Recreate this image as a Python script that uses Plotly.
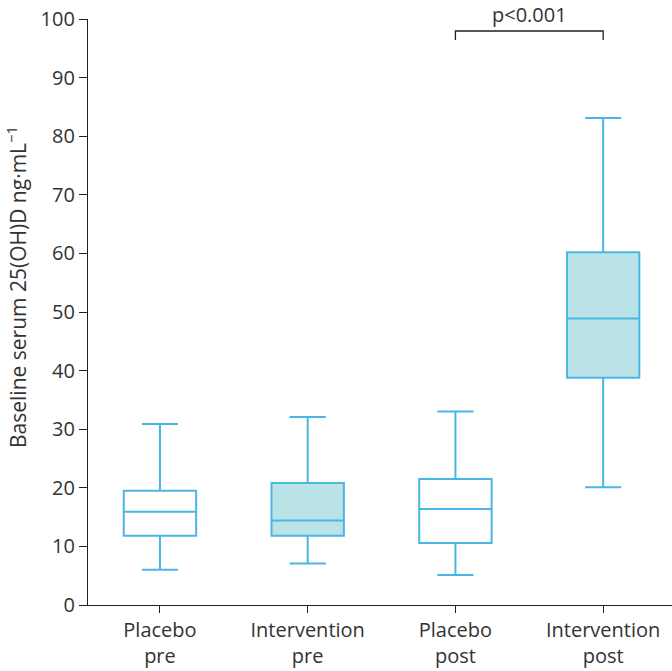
import plotly.graph_objects as go

categories = ["Placebo<br>pre", "Intervention<br>pre", "Placebo<br>post", "Intervention<br>post"]
lower_whisker = [6.0, 7.1, 5.1, 20.1]
q1_vals = [11.8, 11.8, 10.6, 38.8]
median_vals = [15.9, 14.4, 16.4, 48.9]
q3_vals = [19.5, 20.8, 21.5, 60.2]
upper_whisker = [30.9, 32.1, 33.0, 83.1]
filled = [False, True, False, True]
y_ticks = [0, 10, 20, 30, 40, 50, 60, 70, 80, 90, 100]
y_title = "Baseline serum 25(OH)D ng·mL<sup>−1</sup>"

LINE = "#4ab6e6"
FILL = "#bae3e7"
AXIS = "#231f20"
TEXT = "#333333"
FONT = "Open Sans"

fig = go.Figure()
for i, name in enumerate(categories):
    fig.add_trace(go.Box(
        x=[i], q1=[q1_vals[i]], median=[median_vals[i]], q3=[q3_vals[i]],
        lowerfence=[lower_whisker[i]], upperfence=[upper_whisker[i]],
        width=0.49, whiskerwidth=0.5,
        fillcolor=FILL if filled[i] else "white",
        line=dict(color=LINE, width=2),
        boxpoints=False, showlegend=False, hoverinfo="skip",
    ))

# significance bracket between Placebo post (2) and Intervention post (3)
fig.add_shape(type="path", xref="x", yref="y",
              path="M 2,96.4 L 2,97.95 L 3,97.95 L 3,96.4",
              line=dict(color=AXIS, width=1.3))
fig.add_annotation(x=2.5, xref="x", y=1.0, yref="paper", yanchor="middle", yshift=5,
                   text="p<0.001", showarrow=False,
                   font=dict(family=FONT, size=20, color=TEXT))

# y-axis title
fig.add_annotation(x=0, xref="paper", xanchor="center", xshift=-71,
                   y=0.5427, yref="paper", yanchor="middle",
                   text=y_title, textangle=-90, showarrow=False,
                   font=dict(family=FONT, size=21, color=TEXT))

fig.update_layout(
    width=672, height=671,
    margin=dict(l=88, r=0, t=19, b=66),
    plot_bgcolor="white", paper_bgcolor="white",
    font=dict(family=FONT, size=20, color=TEXT),
)
fig.update_xaxes(
    range=[-0.487, 3.466], tickmode="array", tickvals=list(range(len(categories))),
    ticktext=categories, showline=True, linecolor=AXIS, linewidth=1.3,
    ticks="outside", ticklen=7, tickcolor=AXIS, tickwidth=1.3,
    showgrid=False, zeroline=False, tickfont=dict(size=20), automargin=False,
)
fig.update_yaxes(
    range=[0, 100], tickmode="array", tickvals=y_ticks,
    showline=True, linecolor=AXIS, linewidth=1.3,
    ticks="outside", ticklen=8, tickcolor=AXIS, tickwidth=1.3,
    showgrid=False, zeroline=False, tickfont=dict(size=20), automargin=False,
)

fig.write_html("out.html", config={"displayModeBar": False},
               post_script="document.body.style.margin='0';")
